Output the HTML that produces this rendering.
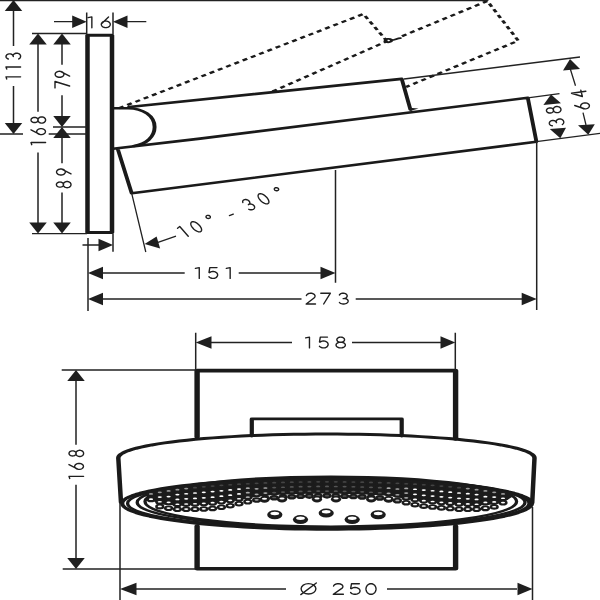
<!DOCTYPE html>
<html><head><meta charset="utf-8"><style>
html,body{margin:0;padding:0;background:#fff;width:600px;height:600px;overflow:hidden}
svg{display:block}
</style></head><body>
<svg width="600" height="600" viewBox="0 0 600 600">
<rect width="600" height="600" fill="#fff"/>
<g transform="scale(1.5 1)">
<g stroke="#1a1a1a" fill="none" stroke-linejoin="round" stroke-linecap="round">
<path d="M58.33 35.3H74.67V232.5H58.33Z" stroke-width="3"/>
<path d="M75.33 108.2H85.33C95.33 108.2 103.07 116 103.07 127C103.07 137 97.33 144.3 89.33 145.9" stroke-width="2.6"/>
<path d="M86 107L267.8 78.85L273.6 109.5" stroke-width="2.6"/>
<path d="M75.33 148.8L133.33 138.6L351.87 97.8L357.6 141.7L87.8 193.3L78.67 149.8" stroke-width="2.6"/>
<path d="M131.4 437V370.6H303.73V439" stroke-width="3.6"/>
<path d="M131.4 526V568.7H303.73V526" stroke-width="3.6"/>
<path d="M167.87 436V418.9H267.8V436" stroke-width="2.8"/>
<path d="M80.67 502.5L78.87 458L79.06 456.74L79.63 455.49L80.57 454.25L81.9 453.01L83.59 451.79L85.66 450.58L88.08 449.4L90.86 448.24L93.99 447.1L97.45 446L101.25 444.93L105.36 443.89L109.79 442.9L114.5 441.94L119.5 441.03L124.77 440.16L130.29 439.35L136.05 438.58L142.04 437.87L148.23 437.22L154.61 436.62L161.17 436.07L167.88 435.59L174.73 435.17L181.69 434.82L188.75 434.52L195.9 434.3L203.1 434.13L210.34 434.03L217.6 434L224.86 434.03L232.1 434.13L239.3 434.3L246.45 434.52L253.51 434.82L260.47 435.17L267.32 435.59L274.03 436.07L280.59 436.62L286.97 437.22L293.16 437.87L299.15 438.58L304.91 439.35L310.43 440.16L315.7 441.03L320.7 441.94L325.41 442.9L329.84 443.89L333.95 444.93L337.75 446L341.21 447.1L344.34 448.24L347.12 449.4L349.54 450.58L351.61 451.79L353.3 453.01L354.63 454.25L355.57 455.49L356.14 456.74L356.33 458L354.8 503" stroke-width="3"/>
<path d="M354.67 503.3L354.48 504.66L353.92 506.02L352.99 507.37L351.68 508.71L350.01 510.03L347.98 511.33L345.59 512.62L342.86 513.88L339.78 515.1L336.37 516.3L332.63 517.46L328.58 518.58L324.23 519.66L319.58 520.7L314.66 521.68L309.47 522.62L304.03 523.51L298.36 524.33L292.47 525.11L286.37 525.82L280.08 526.47L273.63 527.05L267.02 527.57L260.28 528.03L253.42 528.41L246.47 528.73L239.43 528.98L232.35 529.16L225.21 529.26L218.07 529.3L210.92 529.26L203.79 529.16L196.7 528.98L189.67 528.73L182.71 528.41L175.85 528.03L169.11 527.57L162.51 527.05L156.05 526.47L149.77 525.82L143.67 525.11L137.77 524.33L132.1 523.51L126.67 522.62L121.47 521.68L116.55 520.7L111.91 519.66L107.55 518.58L103.51 517.46L99.77 516.3L96.35 515.1L93.27 513.88L90.54 512.62L88.15 511.33L86.12 510.03L84.45 508.71L83.15 507.37L82.21 506.02L81.65 504.66L81.47 503.3L81.65 502L82.21 500.7L83.15 499.4L84.45 498.12L86.12 496.86L88.15 495.61L90.54 494.38L93.27 493.17L96.35 492L99.77 490.85L103.51 489.74L107.55 488.66L111.91 487.63L116.55 486.64L121.47 485.69L126.67 484.8L132.1 483.95L137.77 483.16L143.67 482.42L149.77 481.74L156.05 481.11L162.51 480.55L169.11 480.05L175.85 479.62L182.71 479.25L189.67 478.94L196.7 478.71L203.79 478.54L210.92 478.43L218.07 478.4L225.21 478.43L232.35 478.54L239.43 478.71L246.47 478.94L253.42 479.25L260.28 479.62L267.02 480.05L273.63 480.55L280.08 481.11L286.37 481.74L292.47 482.42L298.36 483.16L304.03 483.95L309.47 484.8L314.66 485.69L319.58 486.64L324.23 487.63L328.58 488.66L332.63 489.74L336.37 490.85L339.78 492L342.86 493.17L345.59 494.38L347.98 495.61L350.01 496.86L351.68 498.12L352.99 499.4L353.92 500.7L354.48 502L354.67 503.3Z" stroke-width="2.8"/>
</g>
<path d="M256.67 40.5C256.67 38.5 260 38.3 261 39.8C261.67 41.2 259.33 42.8 257.67 42C257 41.6 256.67 41 256.67 40.5ZM260.67 40.3C262.67 40.6 264.67 38.4 267 38.2" fill="none" stroke="#1a1a1a" stroke-width="1.8" stroke-linecap="round"/>
<g stroke="#1a1a1a" stroke-width="2.2" fill="none" stroke-dasharray="3.45 2.9">
<path d="M79.33 108.2L242.27 14L257.8 40.7"/>
<path d="M268 36.2L324.87 1L345.53 40.7L270.67 87"/>
<path d="M181.67 91.5L258.33 41"/>
</g>
</g>
<g transform="scale(1.5 1)">
<g fill="none" stroke="#1a1a1a" stroke-width="2.2">
<ellipse cx="218.87" cy="503.5" rx="133.8" ry="24.5"/>
<ellipse cx="220.73" cy="502.5" rx="129.27" ry="24.5"/>
<ellipse cx="220.53" cy="501.5" rx="123.87" ry="25"/>
</g>
<path d="M98 491.43L101.04 490.46L104.08 489.58L107.13 488.77L110.17 488.03L113.21 487.34L116.25 486.7L119.29 486.1L122.33 485.54L125.37 485.01L128.41 484.51L131.46 484.04L134.5 483.6L137.54 483.19L140.59 482.79L143.63 482.42L146.67 482.07L149.71 481.74L152.75 481.43L155.79 481.14L158.83 480.86L161.87 480.6L164.92 480.36L167.96 480.14L171 479.92L174.04 479.73L177.08 479.55L180.13 479.38L183.17 479.23L186.21 479.09L189.25 478.96L192.29 478.85L195.33 478.75L198.37 478.66L201.41 478.59L204.46 478.52L207.5 478.47L210.54 478.44L213.59 478.41L216.63 478.4L219.67 478.4L222.71 478.41L225.75 478.44L228.79 478.48L231.83 478.53L234.87 478.59L237.92 478.66L240.96 478.75L244 478.85L247.04 478.97L250.08 479.09L253.13 479.23L256.17 479.39L259.21 479.56L262.25 479.74L265.29 479.94L268.33 480.15L271.37 480.37L274.41 480.62L277.46 480.88L280.5 481.15L283.54 481.45L286.59 481.76L289.63 482.09L292.67 482.44L295.71 482.81L298.75 483.21L301.79 483.63L304.83 484.07L307.87 484.54L310.92 485.04L313.96 485.57L317 486.13L320.04 486.73L323.08 487.38L326.13 488.07L329.17 488.81L332.21 489.62L335.25 490.5L338.29 491.48L341.33 492.57L341.33 497.07L338.29 499.94L335.25 502.1L332.21 503.43L329.17 504.49L326.13 504.8L323.08 505.12L320.04 505.46L317 505.29L313.96 505.12L310.92 504.96L307.87 504.81L304.83 504.53L301.79 504.15L298.75 503.79L295.71 503.43L292.67 503.06L289.63 502.64L286.59 502.22L283.54 501.81L280.5 501.4L277.46 500.66L274.41 499.87L271.37 499.07L268.33 498.29L265.29 497.47L262.25 496.61L259.21 495.9L256.17 495.61L253.13 495.33L250.08 495.05L247.04 494.77L244 494.57L240.96 494.38L237.92 494.19L234.87 494.01L231.83 493.88L228.79 493.8L225.75 493.72L222.71 493.65L219.67 493.58L216.63 493.52L213.59 493.59L210.54 493.66L207.5 493.73L204.46 493.81L201.41 493.9L198.37 494.03L195.33 494.22L192.29 494.41L189.25 494.6L186.21 494.81L183.17 495.06L180.13 495.32L177.08 495.58L174.04 496.22L171 496.92L167.96 497.62L164.92 498.37L161.87 499.16L158.83 499.96L155.79 500.76L152.75 501.53L149.71 502.16L146.67 502.79L143.63 503.43L140.59 503.78L137.54 504.11L134.5 504.45L131.46 504.66L128.41 504.8L125.37 504.95L122.33 505.11L119.29 505.28L116.25 505.39L113.21 505.05L110.17 504.72L107.13 504.41L104.08 502.54L101.04 500.21L98 496.03Z" fill="#1c1c1c"/>
<g fill="#1c1c1c"><ellipse cx="100.67" cy="494.17" rx="3.07" ry="2.8"/><ellipse cx="106.53" cy="492.52" rx="3.07" ry="2.8"/><ellipse cx="112.4" cy="491.12" rx="3.07" ry="2.8"/><ellipse cx="118.27" cy="489.9" rx="3.07" ry="2.8"/><ellipse cx="124.13" cy="488.82" rx="3.07" ry="2.8"/><ellipse cx="130" cy="487.87" rx="3.07" ry="2.8"/><ellipse cx="135.87" cy="487.01" rx="3.07" ry="2.8"/><ellipse cx="141.73" cy="486.25" rx="3.07" ry="2.8"/><ellipse cx="147.6" cy="485.57" rx="3.07" ry="2.8"/><ellipse cx="153.47" cy="484.96" rx="3.07" ry="2.8"/><ellipse cx="159.33" cy="484.42" rx="3.07" ry="2.8"/><ellipse cx="165.2" cy="483.94" rx="3.07" ry="2.8"/><ellipse cx="171.07" cy="483.52" rx="3.07" ry="2.8"/><ellipse cx="176.93" cy="483.16" rx="3.07" ry="2.8"/><ellipse cx="182.8" cy="482.84" rx="3.07" ry="2.8"/><ellipse cx="188.67" cy="482.58" rx="3.07" ry="2.8"/><ellipse cx="194.53" cy="482.37" rx="3.07" ry="2.8"/><ellipse cx="200.4" cy="482.21" rx="3.07" ry="2.8"/><ellipse cx="206.27" cy="482.09" rx="3.07" ry="2.8"/><ellipse cx="212.13" cy="482.02" rx="3.07" ry="2.8"/><ellipse cx="218" cy="482" rx="3.07" ry="2.8"/><ellipse cx="223.87" cy="482.02" rx="3.07" ry="2.8"/><ellipse cx="229.73" cy="482.09" rx="3.07" ry="2.8"/><ellipse cx="235.6" cy="482.21" rx="3.07" ry="2.8"/><ellipse cx="241.47" cy="482.37" rx="3.07" ry="2.8"/><ellipse cx="247.33" cy="482.58" rx="3.07" ry="2.8"/><ellipse cx="253.2" cy="482.84" rx="3.07" ry="2.8"/><ellipse cx="259.07" cy="483.15" rx="3.07" ry="2.8"/><ellipse cx="264.93" cy="483.51" rx="3.07" ry="2.8"/><ellipse cx="270.8" cy="483.93" rx="3.07" ry="2.8"/><ellipse cx="276.67" cy="484.41" rx="3.07" ry="2.8"/><ellipse cx="282.53" cy="484.95" rx="3.07" ry="2.8"/><ellipse cx="288.4" cy="485.55" rx="3.07" ry="2.8"/><ellipse cx="294.27" cy="486.23" rx="3.07" ry="2.8"/><ellipse cx="300.13" cy="486.99" rx="3.07" ry="2.8"/><ellipse cx="306" cy="487.85" rx="3.07" ry="2.8"/><ellipse cx="311.87" cy="488.8" rx="3.07" ry="2.8"/><ellipse cx="317.73" cy="489.87" rx="3.07" ry="2.8"/><ellipse cx="323.6" cy="491.09" rx="3.07" ry="2.8"/><ellipse cx="329.47" cy="492.49" rx="3.07" ry="2.8"/><ellipse cx="335.33" cy="494.13" rx="3.07" ry="2.8"/><ellipse cx="100.67" cy="499.4" rx="3.07" ry="2.8"/><ellipse cx="106.53" cy="497.23" rx="3.07" ry="2.8"/><ellipse cx="112.4" cy="496.82" rx="3.07" ry="2.8"/><ellipse cx="118.27" cy="494.75" rx="3.07" ry="2.8"/><ellipse cx="124.13" cy="493.94" rx="3.07" ry="2.8"/><ellipse cx="130" cy="493.22" rx="3.07" ry="2.8"/><ellipse cx="135.87" cy="492.52" rx="3.07" ry="2.8"/><ellipse cx="141.73" cy="491.8" rx="3.07" ry="2.8"/><ellipse cx="147.6" cy="490.98" rx="3.07" ry="2.8"/><ellipse cx="153.47" cy="490.16" rx="3.07" ry="2.8"/><ellipse cx="159.33" cy="489.26" rx="3.07" ry="2.8"/><ellipse cx="165.2" cy="488.4" rx="3.07" ry="2.8"/><ellipse cx="171.07" cy="489.01" rx="3.07" ry="2.8"/><ellipse cx="176.93" cy="488.19" rx="3.07" ry="2.8"/><ellipse cx="182.8" cy="487.79" rx="3.07" ry="2.8"/><ellipse cx="188.67" cy="487.44" rx="3.07" ry="2.8"/><ellipse cx="194.53" cy="487.15" rx="3.07" ry="2.8"/><ellipse cx="200.4" cy="486.9" rx="3.07" ry="2.8"/><ellipse cx="206.27" cy="486.77" rx="3.07" ry="2.8"/><ellipse cx="212.13" cy="486.66" rx="3.07" ry="2.8"/><ellipse cx="218" cy="486.61" rx="3.07" ry="2.8"/><ellipse cx="223.87" cy="486.69" rx="3.07" ry="2.8"/><ellipse cx="229.73" cy="486.79" rx="3.07" ry="2.8"/><ellipse cx="235.6" cy="486.96" rx="3.07" ry="2.8"/><ellipse cx="241.47" cy="487.22" rx="3.07" ry="2.8"/><ellipse cx="247.33" cy="487.51" rx="3.07" ry="2.8"/><ellipse cx="253.2" cy="487.9" rx="3.07" ry="2.8"/><ellipse cx="259.07" cy="488.33" rx="3.07" ry="2.8"/><ellipse cx="264.93" cy="489.22" rx="3.07" ry="2.8"/><ellipse cx="270.8" cy="488.62" rx="3.07" ry="2.8"/><ellipse cx="276.67" cy="489.47" rx="3.07" ry="2.8"/><ellipse cx="282.53" cy="490.26" rx="3.07" ry="2.8"/><ellipse cx="288.4" cy="490.93" rx="3.07" ry="2.8"/><ellipse cx="294.27" cy="491.65" rx="3.07" ry="2.8"/><ellipse cx="300.13" cy="492.39" rx="3.07" ry="2.8"/><ellipse cx="306" cy="493.19" rx="3.07" ry="2.8"/><ellipse cx="311.87" cy="493.92" rx="3.07" ry="2.8"/><ellipse cx="317.73" cy="494.73" rx="3.07" ry="2.8"/><ellipse cx="323.6" cy="496.86" rx="3.07" ry="2.8"/><ellipse cx="329.47" cy="497.3" rx="3.07" ry="2.8"/><ellipse cx="335.33" cy="498.46" rx="3.07" ry="2.8"/><ellipse cx="106.53" cy="501.94" rx="3.07" ry="2.8"/><ellipse cx="112.4" cy="502.53" rx="3.07" ry="2.8"/><ellipse cx="118.27" cy="499.6" rx="3.07" ry="2.8"/><ellipse cx="124.13" cy="499.06" rx="3.07" ry="2.8"/><ellipse cx="130" cy="498.58" rx="3.07" ry="2.8"/><ellipse cx="135.87" cy="498.03" rx="3.07" ry="2.8"/><ellipse cx="141.73" cy="497.36" rx="3.07" ry="2.8"/><ellipse cx="147.6" cy="496.4" rx="3.07" ry="2.8"/><ellipse cx="153.47" cy="495.36" rx="3.07" ry="2.8"/><ellipse cx="159.33" cy="494.1" rx="3.07" ry="2.8"/><ellipse cx="165.2" cy="492.87" rx="3.07" ry="2.8"/><ellipse cx="171.07" cy="494.49" rx="3.07" ry="2.8"/><ellipse cx="176.93" cy="493.23" rx="3.07" ry="2.8"/><ellipse cx="182.8" cy="492.74" rx="3.07" ry="2.8"/><ellipse cx="188.67" cy="492.29" rx="3.07" ry="2.8"/><ellipse cx="194.53" cy="491.93" rx="3.07" ry="2.8"/><ellipse cx="200.4" cy="491.6" rx="3.07" ry="2.8"/><ellipse cx="206.27" cy="491.44" rx="3.07" ry="2.8"/><ellipse cx="212.13" cy="491.3" rx="3.07" ry="2.8"/><ellipse cx="218" cy="491.23" rx="3.07" ry="2.8"/><ellipse cx="223.87" cy="491.35" rx="3.07" ry="2.8"/><ellipse cx="229.73" cy="491.49" rx="3.07" ry="2.8"/><ellipse cx="235.6" cy="491.72" rx="3.07" ry="2.8"/><ellipse cx="241.47" cy="492.06" rx="3.07" ry="2.8"/><ellipse cx="247.33" cy="492.44" rx="3.07" ry="2.8"/><ellipse cx="253.2" cy="492.97" rx="3.07" ry="2.8"/><ellipse cx="259.07" cy="493.51" rx="3.07" ry="2.8"/><ellipse cx="264.93" cy="494.94" rx="3.07" ry="2.8"/><ellipse cx="270.8" cy="493.31" rx="3.07" ry="2.8"/><ellipse cx="276.67" cy="494.54" rx="3.07" ry="2.8"/><ellipse cx="282.53" cy="495.56" rx="3.07" ry="2.8"/><ellipse cx="288.4" cy="496.31" rx="3.07" ry="2.8"/><ellipse cx="294.27" cy="497.07" rx="3.07" ry="2.8"/><ellipse cx="300.13" cy="497.78" rx="3.07" ry="2.8"/><ellipse cx="306" cy="498.54" rx="3.07" ry="2.8"/><ellipse cx="311.87" cy="499.05" rx="3.07" ry="2.8"/><ellipse cx="317.73" cy="499.59" rx="3.07" ry="2.8"/><ellipse cx="323.6" cy="502.63" rx="3.07" ry="2.8"/><ellipse cx="329.47" cy="502.12" rx="3.07" ry="2.8"/><ellipse cx="335.33" cy="502.8" rx="3.07" ry="2.8"/><ellipse cx="106.53" cy="506.65" rx="3.07" ry="2.8"/><ellipse cx="112.4" cy="508.23" rx="3.07" ry="2.8"/><ellipse cx="118.27" cy="504.45" rx="3.07" ry="2.8"/><ellipse cx="124.13" cy="504.18" rx="3.07" ry="2.8"/><ellipse cx="130" cy="503.94" rx="3.07" ry="2.8"/><ellipse cx="135.87" cy="503.54" rx="3.07" ry="2.8"/><ellipse cx="141.73" cy="502.91" rx="3.07" ry="2.8"/><ellipse cx="147.6" cy="501.82" rx="3.07" ry="2.8"/><ellipse cx="153.47" cy="500.56" rx="3.07" ry="2.8"/><ellipse cx="159.33" cy="498.94" rx="3.07" ry="2.8"/><ellipse cx="165.2" cy="497.33" rx="3.07" ry="2.8"/><ellipse cx="171.07" cy="499.98" rx="3.07" ry="2.8"/><ellipse cx="176.93" cy="498.27" rx="3.07" ry="2.8"/><ellipse cx="182.8" cy="497.69" rx="3.07" ry="2.8"/><ellipse cx="188.67" cy="497.15" rx="3.07" ry="2.8"/><ellipse cx="194.53" cy="496.71" rx="3.07" ry="2.8"/><ellipse cx="200.4" cy="496.29" rx="3.07" ry="2.8"/><ellipse cx="206.27" cy="496.11" rx="3.07" ry="2.8"/><ellipse cx="212.13" cy="495.94" rx="3.07" ry="2.8"/><ellipse cx="218" cy="495.84" rx="3.07" ry="2.8"/><ellipse cx="223.87" cy="496.02" rx="3.07" ry="2.8"/><ellipse cx="229.73" cy="496.19" rx="3.07" ry="2.8"/><ellipse cx="235.6" cy="496.47" rx="3.07" ry="2.8"/><ellipse cx="241.47" cy="496.91" rx="3.07" ry="2.8"/><ellipse cx="247.33" cy="497.38" rx="3.07" ry="2.8"/><ellipse cx="253.2" cy="498.04" rx="3.07" ry="2.8"/><ellipse cx="259.07" cy="498.7" rx="3.07" ry="2.8"/><ellipse cx="264.93" cy="500.65" rx="3.07" ry="2.8"/><ellipse cx="270.8" cy="498" rx="3.07" ry="2.8"/><ellipse cx="276.67" cy="499.61" rx="3.07" ry="2.8"/><ellipse cx="282.53" cy="500.87" rx="3.07" ry="2.8"/><ellipse cx="288.4" cy="501.68" rx="3.07" ry="2.8"/><ellipse cx="294.27" cy="502.49" rx="3.07" ry="2.8"/><ellipse cx="300.13" cy="503.17" rx="3.07" ry="2.8"/><ellipse cx="306" cy="503.88" rx="3.07" ry="2.8"/><ellipse cx="311.87" cy="504.17" rx="3.07" ry="2.8"/><ellipse cx="317.73" cy="504.44" rx="3.07" ry="2.8"/><ellipse cx="323.6" cy="508.4" rx="3.07" ry="2.8"/><ellipse cx="329.47" cy="506.93" rx="3.07" ry="2.8"/><ellipse cx="118.27" cy="509.3" rx="3.07" ry="2.8"/><ellipse cx="124.13" cy="509.3" rx="3.07" ry="2.8"/><ellipse cx="130" cy="509.3" rx="3.07" ry="2.8"/><ellipse cx="135.87" cy="509.05" rx="3.07" ry="2.8"/><ellipse cx="141.73" cy="508.46" rx="3.07" ry="2.8"/><ellipse cx="147.6" cy="507.23" rx="3.07" ry="2.8"/><ellipse cx="153.47" cy="505.75" rx="3.07" ry="2.8"/><ellipse cx="159.33" cy="503.77" rx="3.07" ry="2.8"/><ellipse cx="165.2" cy="501.79" rx="3.07" ry="2.8"/><ellipse cx="270.8" cy="502.7" rx="3.07" ry="2.8"/><ellipse cx="276.67" cy="504.68" rx="3.07" ry="2.8"/><ellipse cx="282.53" cy="506.18" rx="3.07" ry="2.8"/><ellipse cx="288.4" cy="507.06" rx="3.07" ry="2.8"/><ellipse cx="294.27" cy="507.91" rx="3.07" ry="2.8"/><ellipse cx="300.13" cy="508.56" rx="3.07" ry="2.8"/><ellipse cx="306" cy="509.23" rx="3.07" ry="2.8"/><ellipse cx="311.87" cy="509.3" rx="3.07" ry="2.8"/><ellipse cx="317.73" cy="509.3" rx="3.07" ry="2.8"/></g><ellipse cx="100.67" cy="493.97" rx="1.4" ry="0.85" fill="#999"/><ellipse cx="106.53" cy="492.32" rx="1.4" ry="0.85" fill="#999"/><ellipse cx="112.4" cy="490.92" rx="1.4" ry="0.85" fill="#999"/><ellipse cx="118.27" cy="489.7" rx="1.4" ry="0.85" fill="#999"/><ellipse cx="124.13" cy="488.62" rx="1.4" ry="0.85" fill="#999"/><ellipse cx="130" cy="487.67" rx="1.4" ry="0.85" fill="#444"/><ellipse cx="135.87" cy="486.81" rx="1.4" ry="0.85" fill="#444"/><ellipse cx="141.73" cy="486.05" rx="1.4" ry="0.85" fill="#444"/><ellipse cx="147.6" cy="485.37" rx="1.4" ry="0.85" fill="#444"/><ellipse cx="153.47" cy="484.76" rx="1.4" ry="0.85" fill="#444"/><ellipse cx="159.33" cy="484.22" rx="1.4" ry="0.85" fill="#444"/><ellipse cx="165.2" cy="483.74" rx="1.4" ry="0.85" fill="#444"/><ellipse cx="171.07" cy="483.32" rx="1.4" ry="0.85" fill="#444"/><ellipse cx="176.93" cy="482.96" rx="1.4" ry="0.85" fill="#444"/><ellipse cx="182.8" cy="482.64" rx="1.4" ry="0.85" fill="#444"/><ellipse cx="188.67" cy="482.38" rx="1.4" ry="0.85" fill="#444"/><ellipse cx="194.53" cy="482.17" rx="1.4" ry="0.85" fill="#444"/><ellipse cx="200.4" cy="482.01" rx="1.4" ry="0.85" fill="#444"/><ellipse cx="206.27" cy="481.89" rx="1.4" ry="0.85" fill="#444"/><ellipse cx="212.13" cy="481.82" rx="1.4" ry="0.85" fill="#444"/><ellipse cx="218" cy="481.8" rx="1.4" ry="0.85" fill="#444"/><ellipse cx="223.87" cy="481.82" rx="1.4" ry="0.85" fill="#444"/><ellipse cx="229.73" cy="481.89" rx="1.4" ry="0.85" fill="#444"/><ellipse cx="235.6" cy="482.01" rx="1.4" ry="0.85" fill="#444"/><ellipse cx="241.47" cy="482.17" rx="1.4" ry="0.85" fill="#444"/><ellipse cx="247.33" cy="482.38" rx="1.4" ry="0.85" fill="#444"/><ellipse cx="253.2" cy="482.64" rx="1.4" ry="0.85" fill="#444"/><ellipse cx="259.07" cy="482.95" rx="1.4" ry="0.85" fill="#444"/><ellipse cx="264.93" cy="483.31" rx="1.4" ry="0.85" fill="#444"/><ellipse cx="270.8" cy="483.73" rx="1.4" ry="0.85" fill="#444"/><ellipse cx="276.67" cy="484.21" rx="1.4" ry="0.85" fill="#444"/><ellipse cx="282.53" cy="484.75" rx="1.4" ry="0.85" fill="#444"/><ellipse cx="288.4" cy="485.35" rx="1.4" ry="0.85" fill="#444"/><ellipse cx="294.27" cy="486.03" rx="1.4" ry="0.85" fill="#444"/><ellipse cx="300.13" cy="486.79" rx="1.4" ry="0.85" fill="#444"/><ellipse cx="306" cy="487.65" rx="1.4" ry="0.85" fill="#444"/><ellipse cx="311.87" cy="488.6" rx="1.4" ry="0.85" fill="#999"/><ellipse cx="317.73" cy="489.67" rx="1.4" ry="0.85" fill="#999"/><ellipse cx="323.6" cy="490.89" rx="1.4" ry="0.85" fill="#999"/><ellipse cx="329.47" cy="492.29" rx="1.4" ry="0.85" fill="#999"/><ellipse cx="335.33" cy="493.93" rx="1.4" ry="0.85" fill="#999"/><ellipse cx="100.67" cy="499.2" rx="1.4" ry="0.85" fill="#fff"/><ellipse cx="106.53" cy="497.03" rx="1.4" ry="0.85" fill="#fff"/><ellipse cx="112.4" cy="496.62" rx="1.4" ry="0.85" fill="#fff"/><ellipse cx="118.27" cy="494.55" rx="1.4" ry="0.85" fill="#fff"/><ellipse cx="124.13" cy="493.74" rx="1.4" ry="0.85" fill="#fff"/><ellipse cx="130" cy="493.02" rx="1.4" ry="0.85" fill="#fff"/><ellipse cx="135.87" cy="492.32" rx="1.4" ry="0.85" fill="#fff"/><ellipse cx="141.73" cy="491.6" rx="1.4" ry="0.85" fill="#fff"/><ellipse cx="147.6" cy="490.78" rx="1.4" ry="0.85" fill="#fff"/><ellipse cx="153.47" cy="489.96" rx="1.4" ry="0.85" fill="#fff"/><ellipse cx="159.33" cy="489.06" rx="1.4" ry="0.85" fill="#fff"/><ellipse cx="165.2" cy="488.2" rx="1.4" ry="0.85" fill="#aaa"/><ellipse cx="171.07" cy="488.81" rx="1.4" ry="0.85" fill="#aaa"/><ellipse cx="176.93" cy="487.99" rx="1.4" ry="0.85" fill="#aaa"/><ellipse cx="182.8" cy="487.59" rx="1.4" ry="0.85" fill="#555"/><ellipse cx="188.67" cy="487.24" rx="1.4" ry="0.85" fill="#555"/><ellipse cx="194.53" cy="486.95" rx="1.4" ry="0.85" fill="#555"/><ellipse cx="200.4" cy="486.7" rx="1.4" ry="0.85" fill="#555"/><ellipse cx="206.27" cy="486.57" rx="1.4" ry="0.85" fill="#555"/><ellipse cx="212.13" cy="486.46" rx="1.4" ry="0.85" fill="#555"/><ellipse cx="218" cy="486.41" rx="1.4" ry="0.85" fill="#555"/><ellipse cx="223.87" cy="486.49" rx="1.4" ry="0.85" fill="#555"/><ellipse cx="229.73" cy="486.59" rx="1.4" ry="0.85" fill="#555"/><ellipse cx="235.6" cy="486.76" rx="1.4" ry="0.85" fill="#555"/><ellipse cx="241.47" cy="487.02" rx="1.4" ry="0.85" fill="#555"/><ellipse cx="247.33" cy="487.31" rx="1.4" ry="0.85" fill="#555"/><ellipse cx="253.2" cy="487.7" rx="1.4" ry="0.85" fill="#555"/><ellipse cx="259.07" cy="488.13" rx="1.4" ry="0.85" fill="#aaa"/><ellipse cx="264.93" cy="489.02" rx="1.4" ry="0.85" fill="#aaa"/><ellipse cx="270.8" cy="488.42" rx="1.4" ry="0.85" fill="#aaa"/><ellipse cx="276.67" cy="489.27" rx="1.4" ry="0.85" fill="#fff"/><ellipse cx="282.53" cy="490.06" rx="1.4" ry="0.85" fill="#fff"/><ellipse cx="288.4" cy="490.73" rx="1.4" ry="0.85" fill="#fff"/><ellipse cx="294.27" cy="491.45" rx="1.4" ry="0.85" fill="#fff"/><ellipse cx="300.13" cy="492.19" rx="1.4" ry="0.85" fill="#fff"/><ellipse cx="306" cy="492.99" rx="1.4" ry="0.85" fill="#fff"/><ellipse cx="311.87" cy="493.72" rx="1.4" ry="0.85" fill="#fff"/><ellipse cx="317.73" cy="494.53" rx="1.4" ry="0.85" fill="#fff"/><ellipse cx="323.6" cy="496.66" rx="1.4" ry="0.85" fill="#fff"/><ellipse cx="329.47" cy="497.1" rx="1.4" ry="0.85" fill="#fff"/><ellipse cx="335.33" cy="498.26" rx="1.4" ry="0.85" fill="#fff"/><ellipse cx="106.53" cy="501.74" rx="1.4" ry="0.85" fill="#fff"/><ellipse cx="112.4" cy="502.33" rx="1.4" ry="0.85" fill="#fff"/><ellipse cx="118.27" cy="499.4" rx="1.4" ry="0.85" fill="#fff"/><ellipse cx="124.13" cy="498.86" rx="1.4" ry="0.85" fill="#fff"/><ellipse cx="130" cy="498.38" rx="1.4" ry="0.85" fill="#fff"/><ellipse cx="135.87" cy="497.83" rx="1.4" ry="0.85" fill="#fff"/><ellipse cx="141.73" cy="497.16" rx="1.4" ry="0.85" fill="#fff"/><ellipse cx="147.6" cy="496.2" rx="1.4" ry="0.85" fill="#fff"/><ellipse cx="153.47" cy="495.16" rx="1.4" ry="0.85" fill="#fff"/><ellipse cx="159.33" cy="493.9" rx="1.4" ry="0.85" fill="#fff"/><ellipse cx="165.2" cy="492.67" rx="1.4" ry="0.85" fill="#aaa"/><ellipse cx="171.07" cy="494.29" rx="1.4" ry="0.85" fill="#aaa"/><ellipse cx="176.93" cy="493.03" rx="1.4" ry="0.85" fill="#aaa"/><ellipse cx="182.8" cy="492.54" rx="1.4" ry="0.85" fill="#555"/><ellipse cx="188.67" cy="492.09" rx="1.4" ry="0.85" fill="#555"/><ellipse cx="194.53" cy="491.73" rx="1.4" ry="0.85" fill="#555"/><ellipse cx="200.4" cy="491.4" rx="1.4" ry="0.85" fill="#555"/><ellipse cx="206.27" cy="491.24" rx="1.4" ry="0.85" fill="#555"/><ellipse cx="212.13" cy="491.1" rx="1.4" ry="0.85" fill="#555"/><ellipse cx="218" cy="491.03" rx="1.4" ry="0.85" fill="#555"/><ellipse cx="223.87" cy="491.15" rx="1.4" ry="0.85" fill="#555"/><ellipse cx="229.73" cy="491.29" rx="1.4" ry="0.85" fill="#555"/><ellipse cx="235.6" cy="491.52" rx="1.4" ry="0.85" fill="#555"/><ellipse cx="241.47" cy="491.86" rx="1.4" ry="0.85" fill="#555"/><ellipse cx="247.33" cy="492.24" rx="1.4" ry="0.85" fill="#555"/><ellipse cx="253.2" cy="492.77" rx="1.4" ry="0.85" fill="#555"/><ellipse cx="259.07" cy="493.31" rx="1.4" ry="0.85" fill="#aaa"/><ellipse cx="264.93" cy="494.74" rx="1.4" ry="0.85" fill="#aaa"/><ellipse cx="270.8" cy="493.11" rx="1.4" ry="0.85" fill="#aaa"/><ellipse cx="276.67" cy="494.34" rx="1.4" ry="0.85" fill="#fff"/><ellipse cx="282.53" cy="495.36" rx="1.4" ry="0.85" fill="#fff"/><ellipse cx="288.4" cy="496.11" rx="1.4" ry="0.85" fill="#fff"/><ellipse cx="294.27" cy="496.87" rx="1.4" ry="0.85" fill="#fff"/><ellipse cx="300.13" cy="497.58" rx="1.4" ry="0.85" fill="#fff"/><ellipse cx="306" cy="498.34" rx="1.4" ry="0.85" fill="#fff"/><ellipse cx="311.87" cy="498.85" rx="1.4" ry="0.85" fill="#fff"/><ellipse cx="317.73" cy="499.39" rx="1.4" ry="0.85" fill="#fff"/><ellipse cx="323.6" cy="502.43" rx="1.4" ry="0.85" fill="#fff"/><ellipse cx="329.47" cy="501.92" rx="1.4" ry="0.85" fill="#fff"/><ellipse cx="335.33" cy="502.6" rx="1.4" ry="0.85" fill="#fff"/><ellipse cx="106.53" cy="506.45" rx="1.4" ry="0.85" fill="#fff"/><ellipse cx="112.4" cy="508.03" rx="1.4" ry="0.85" fill="#fff"/><ellipse cx="118.27" cy="504.25" rx="1.4" ry="0.85" fill="#fff"/><ellipse cx="124.13" cy="503.98" rx="1.4" ry="0.85" fill="#fff"/><ellipse cx="130" cy="503.74" rx="1.4" ry="0.85" fill="#fff"/><ellipse cx="135.87" cy="503.34" rx="1.4" ry="0.85" fill="#fff"/><ellipse cx="141.73" cy="502.71" rx="1.4" ry="0.85" fill="#fff"/><ellipse cx="147.6" cy="501.62" rx="1.4" ry="0.85" fill="#fff"/><ellipse cx="153.47" cy="500.36" rx="1.4" ry="0.85" fill="#fff"/><ellipse cx="159.33" cy="498.74" rx="1.4" ry="0.85" fill="#fff"/><ellipse cx="165.2" cy="497.13" rx="1.4" ry="0.85" fill="#aaa"/><ellipse cx="171.07" cy="499.78" rx="1.4" ry="0.85" fill="#aaa"/><ellipse cx="176.93" cy="498.07" rx="1.4" ry="0.85" fill="#aaa"/><ellipse cx="182.8" cy="497.49" rx="1.4" ry="0.85" fill="#555"/><ellipse cx="188.67" cy="496.95" rx="1.4" ry="0.85" fill="#555"/><ellipse cx="194.53" cy="496.51" rx="1.4" ry="0.85" fill="#555"/><ellipse cx="200.4" cy="496.09" rx="1.4" ry="0.85" fill="#555"/><ellipse cx="206.27" cy="495.91" rx="1.4" ry="0.85" fill="#555"/><ellipse cx="212.13" cy="495.74" rx="1.4" ry="0.85" fill="#555"/><ellipse cx="218" cy="495.64" rx="1.4" ry="0.85" fill="#555"/><ellipse cx="223.87" cy="495.82" rx="1.4" ry="0.85" fill="#555"/><ellipse cx="229.73" cy="495.99" rx="1.4" ry="0.85" fill="#555"/><ellipse cx="235.6" cy="496.27" rx="1.4" ry="0.85" fill="#555"/><ellipse cx="241.47" cy="496.71" rx="1.4" ry="0.85" fill="#555"/><ellipse cx="247.33" cy="497.18" rx="1.4" ry="0.85" fill="#555"/><ellipse cx="253.2" cy="497.84" rx="1.4" ry="0.85" fill="#555"/><ellipse cx="259.07" cy="498.5" rx="1.4" ry="0.85" fill="#aaa"/><ellipse cx="264.93" cy="500.45" rx="1.4" ry="0.85" fill="#aaa"/><ellipse cx="270.8" cy="497.8" rx="1.4" ry="0.85" fill="#aaa"/><ellipse cx="276.67" cy="499.41" rx="1.4" ry="0.85" fill="#fff"/><ellipse cx="282.53" cy="500.67" rx="1.4" ry="0.85" fill="#fff"/><ellipse cx="288.4" cy="501.48" rx="1.4" ry="0.85" fill="#fff"/><ellipse cx="294.27" cy="502.29" rx="1.4" ry="0.85" fill="#fff"/><ellipse cx="300.13" cy="502.97" rx="1.4" ry="0.85" fill="#fff"/><ellipse cx="306" cy="503.68" rx="1.4" ry="0.85" fill="#fff"/><ellipse cx="311.87" cy="503.97" rx="1.4" ry="0.85" fill="#fff"/><ellipse cx="317.73" cy="504.24" rx="1.4" ry="0.85" fill="#fff"/><ellipse cx="323.6" cy="508.2" rx="1.4" ry="0.85" fill="#fff"/><ellipse cx="329.47" cy="506.73" rx="1.4" ry="0.85" fill="#fff"/><ellipse cx="118.27" cy="509.1" rx="1.4" ry="0.85" fill="#fff"/><ellipse cx="124.13" cy="509.1" rx="1.4" ry="0.85" fill="#fff"/><ellipse cx="130" cy="509.1" rx="1.4" ry="0.85" fill="#fff"/><ellipse cx="135.87" cy="508.85" rx="1.4" ry="0.85" fill="#fff"/><ellipse cx="141.73" cy="508.26" rx="1.4" ry="0.85" fill="#fff"/><ellipse cx="147.6" cy="507.03" rx="1.4" ry="0.85" fill="#fff"/><ellipse cx="153.47" cy="505.56" rx="1.4" ry="0.85" fill="#fff"/><ellipse cx="159.33" cy="503.57" rx="1.4" ry="0.85" fill="#fff"/><ellipse cx="165.2" cy="501.59" rx="1.4" ry="0.85" fill="#fff"/><ellipse cx="270.8" cy="502.5" rx="1.4" ry="0.85" fill="#fff"/><ellipse cx="276.67" cy="504.48" rx="1.4" ry="0.85" fill="#fff"/><ellipse cx="282.53" cy="505.98" rx="1.4" ry="0.85" fill="#fff"/><ellipse cx="288.4" cy="506.86" rx="1.4" ry="0.85" fill="#fff"/><ellipse cx="294.27" cy="507.71" rx="1.4" ry="0.85" fill="#fff"/><ellipse cx="300.13" cy="508.37" rx="1.4" ry="0.85" fill="#fff"/><ellipse cx="306" cy="509.03" rx="1.4" ry="0.85" fill="#fff"/><ellipse cx="311.87" cy="509.1" rx="1.4" ry="0.85" fill="#fff"/><ellipse cx="317.73" cy="509.1" rx="1.4" ry="0.85" fill="#fff"/>
<ellipse cx="176.33" cy="499.5" rx="3.4" ry="3.2" fill="#1c1c1c"/>
<ellipse cx="176.33" cy="498.7" rx="1.73" ry="1" fill="#fff"/>
<ellipse cx="188" cy="499.3" rx="3.4" ry="3.2" fill="#1c1c1c"/>
<ellipse cx="188" cy="498.5" rx="1.73" ry="1" fill="#fff"/>
<ellipse cx="211.33" cy="499.3" rx="3.4" ry="3.2" fill="#1c1c1c"/>
<ellipse cx="211.33" cy="498.5" rx="1.73" ry="1" fill="#fff"/>
<ellipse cx="224" cy="499.3" rx="3.4" ry="3.2" fill="#1c1c1c"/>
<ellipse cx="224" cy="498.5" rx="1.73" ry="1" fill="#fff"/>
<ellipse cx="247.47" cy="499.3" rx="3.4" ry="3.2" fill="#1c1c1c"/>
<ellipse cx="247.47" cy="498.5" rx="1.73" ry="1" fill="#fff"/>
<ellipse cx="259.07" cy="499.5" rx="3.4" ry="3.2" fill="#1c1c1c"/>
<ellipse cx="259.07" cy="498.7" rx="1.73" ry="1" fill="#fff"/>
<ellipse cx="183.2" cy="514.8" rx="5.07" ry="4.5" fill="#1c1c1c"/>
<ellipse cx="183.2" cy="513.5" rx="2.93" ry="1.7" fill="#fff"/>
<ellipse cx="200.33" cy="519.6" rx="5.07" ry="4.5" fill="#1c1c1c"/>
<ellipse cx="200.33" cy="518.3" rx="2.93" ry="1.7" fill="#fff"/>
<ellipse cx="217.47" cy="513.1" rx="5.07" ry="4.5" fill="#1c1c1c"/>
<ellipse cx="217.47" cy="511.8" rx="2.93" ry="1.7" fill="#fff"/>
<ellipse cx="234.8" cy="519.6" rx="5.07" ry="4.5" fill="#1c1c1c"/>
<ellipse cx="234.8" cy="518.3" rx="2.93" ry="1.7" fill="#fff"/>
<ellipse cx="252.13" cy="514.8" rx="5.07" ry="4.5" fill="#1c1c1c"/>
<ellipse cx="252.13" cy="513.5" rx="2.93" ry="1.7" fill="#fff"/>
</g>
<g stroke="#222" stroke-width="1.3" fill="none"><path d="M0 0.7H487M0 134H23M48.7 134H87M32 33.5H87M53 127H87M32 233.6H87M54 21.7H73M127 21.7H146.3M82.5 245H99M103 273H184.7M238.7 273H321M103 299H301.5M355.7 299H522M131.7 193.3L145.8 252M158 242.4L176 236.2M404 79L580 57M527.8 97.8L559.5 93.6M536.4 141.7L600 133.3M570 68L575.5 85.8M583 112.7L586 125M211 342.5H292M352 342.5H441M61.7 370H196M62.7 569H196M136 589H286M387 589H517"/></g>
<g stroke="#222" stroke-width="1.5" fill="none"><path d="M13.5 10V46M13.5 86V124M38 44V111.7M38 152.5V223M62 44V64.7M62 95.3V117M62 137V163.3M62 192.5V223M86.7 12.5V34M113 12.5V34M113 234V251.7M88 238V311M335.5 170V282.7M536.7 141V310M195.7 332.7V370M455.3 332.7V370M76 380V444.7M76 484.7V558.5M120 503V600M532.5 507V600"/></g>
<path d="M88.02 17.66L91.86 16.9L91.86 27.7M110.28 24.35L110.19 24.98L109.94 25.59L109.52 26.15L108.97 26.64L108.29 27.05L107.51 27.35L106.67 27.53L105.8 27.59L104.93 27.53L104.09 27.35L103.31 27.05L102.63 26.64L102.08 26.15L101.66 25.59L101.41 24.98L101.32 24.35L101.41 23.72L101.66 23.11L102.08 22.55L102.63 22.06L103.31 21.66L104.09 21.36L104.93 21.17L105.8 21.11L106.67 21.17L107.51 21.36L108.29 21.66L108.97 22.06L109.52 22.55L109.94 23.11L110.19 23.72L110.28 24.35M108.52 16.9L101.8 23.38M8.4 59.02L7.75 58.79L7.17 58.47L6.69 58.08L6.33 57.62L6.1 57.12L6 56.6L6.05 56.07L6.24 55.56L6.56 55.09L7.01 54.67L7.56 54.33L8.19 54.07L8.87 53.91L9.59 53.85L10.31 53.89L11.01 54.04L11.65 54.28L12.21 54.61L12.67 55.02L13.02 55.48L13.23 55.99L13.3 56.51L12.93 55.71L13.14 55.15L13.48 54.63L13.93 54.17L14.49 53.78L15.12 53.49L15.82 53.29L16.55 53.21L17.28 53.24L18 53.38L18.67 53.62L19.26 53.96L19.77 54.39L20.17 54.88L20.44 55.43L20.58 56.01L20.58 56.59L20.44 57.17L20.17 57.72L19.77 58.21L19.26 58.64L18.67 58.98M6.73 69.09L6 66.96L20.6 66.96M6.73 78.99L6 76.86L20.6 76.86M59.53 71.31L60.38 71.37L61.2 71.54L61.96 71.82L62.62 72.19L63.17 72.64L63.57 73.16L63.82 73.72L63.91 74.3L63.82 74.88L63.57 75.44L63.17 75.96L62.62 76.41L61.96 76.78L61.2 77.06L60.38 77.23L59.53 77.29L58.67 77.23L57.85 77.06L57.09 76.78L56.43 76.41L55.88 75.96L55.48 75.44L55.23 74.88L55.15 74.3L55.23 73.72L55.48 73.16L55.88 72.64L56.43 72.19L57.09 71.82L57.85 71.54L58.67 71.37L59.53 71.31M69.6 76.11L60.84 71.63M55 87.9L55 81.5L69.6 85.98M34.58 117.44L35.32 117.5L36.03 117.66L36.68 117.93L37.24 118.29L37.67 118.72L37.98 119.21L38.13 119.73L38.13 120.27L37.98 120.79L37.67 121.28L37.24 121.71L36.68 122.07L36.03 122.34L35.32 122.5L34.58 122.56L33.83 122.5L33.12 122.34L32.47 122.07L31.92 121.71L31.48 121.28L31.18 120.79L31.02 120.27L31.02 119.73L31.18 119.21L31.48 118.72L31.92 118.29L32.47 117.93L33.12 117.66L33.83 117.5L34.58 117.44M41.73 116.91L42.54 116.97L43.3 117.17L44.01 117.5L44.61 117.93L45.08 118.45L45.41 119.04L45.58 119.68L45.58 120.32L45.41 120.96L45.08 121.55L44.61 122.07L44.01 122.5L43.3 122.83L42.54 123.03L41.73 123.09L40.93 123.03L40.16 122.83L39.46 122.5L38.86 122.07L38.38 121.55L38.05 120.96L37.88 120.32L37.88 119.68L38.05 119.04L38.38 118.45L38.86 117.93L39.46 117.5L40.16 117.17L40.93 116.97L41.73 116.91M41.07 128.61L41.93 128.67L42.75 128.84L43.51 129.12L44.17 129.49L44.72 129.94L45.12 130.46L45.37 131.02L45.45 131.6L45.37 132.18L45.12 132.74L44.72 133.26L44.17 133.71L43.51 134.08L42.75 134.36L41.93 134.53L41.07 134.59L40.22 134.53L39.4 134.36L38.64 134.08L37.98 133.71L37.43 133.26L37.03 132.74L36.78 132.18L36.69 131.6L36.78 131.02L37.03 130.46L37.43 129.94L37.98 129.49L38.64 129.12L39.4 128.84L40.22 128.67L41.07 128.61M31 129.79L39.76 134.27M31.73 144.69L31 142.56L45.6 142.56M60.93 169.01L61.78 169.07L62.6 169.24L63.36 169.52L64.02 169.89L64.57 170.34L64.97 170.86L65.22 171.42L65.31 172L65.22 172.58L64.97 173.14L64.57 173.66L64.02 174.11L63.36 174.48L62.6 174.76L61.78 174.93L60.93 174.99L60.07 174.93L59.25 174.76L58.49 174.48L57.83 174.11L57.28 173.66L56.88 173.14L56.63 172.58L56.55 172L56.63 171.42L56.88 170.86L57.28 170.34L57.83 169.89L58.49 169.52L59.25 169.24L60.07 169.07L60.93 169.01M71 173.81L62.24 169.33M59.98 182.04L60.72 182.1L61.43 182.26L62.08 182.53L62.64 182.89L63.07 183.32L63.38 183.81L63.53 184.33L63.53 184.87L63.38 185.39L63.07 185.88L62.64 186.31L62.08 186.67L61.43 186.94L60.72 187.1L59.98 187.16L59.23 187.1L58.52 186.94L57.87 186.67L57.32 186.31L56.88 185.88L56.58 185.39L56.42 184.87L56.42 184.33L56.58 183.81L56.88 183.32L57.32 182.89L57.87 182.53L58.52 182.26L59.23 182.1L59.98 182.04M67.13 181.51L67.94 181.57L68.7 181.77L69.41 182.1L70.01 182.53L70.48 183.05L70.81 183.64L70.98 184.28L70.98 184.92L70.81 185.56L70.48 186.15L70.01 186.67L69.41 187.1L68.7 187.43L67.94 187.63L67.13 187.69L66.33 187.63L65.56 187.43L64.86 187.1L64.26 186.67L63.78 186.15L63.45 185.56L63.28 184.92L63.28 184.28L63.45 183.64L63.78 183.05L64.26 182.53L64.86 182.1L65.56 181.77L66.33 181.57L67.13 181.51M72.58 450.84L73.32 450.9L74.03 451.06L74.68 451.33L75.24 451.69L75.67 452.12L75.98 452.61L76.13 453.13L76.13 453.67L75.98 454.19L75.67 454.68L75.24 455.11L74.68 455.47L74.03 455.74L73.32 455.9L72.58 455.96L71.83 455.9L71.12 455.74L70.47 455.47L69.92 455.11L69.48 454.68L69.18 454.19L69.02 453.67L69.02 453.13L69.18 452.61L69.48 452.12L69.92 451.69L70.47 451.33L71.12 451.06L71.83 450.9L72.58 450.84M79.73 450.31L80.54 450.37L81.3 450.57L82.01 450.9L82.61 451.33L83.08 451.85L83.41 452.44L83.58 453.08L83.58 453.72L83.41 454.36L83.08 454.95L82.61 455.47L82.01 455.9L81.3 456.23L80.54 456.43L79.73 456.49L78.93 456.43L78.16 456.23L77.46 455.9L76.86 455.47L76.38 454.95L76.05 454.36L75.88 453.72L75.88 453.08L76.05 452.44L76.38 451.85L76.86 451.33L77.46 450.9L78.16 450.57L78.93 450.37L79.73 450.31M79.07 463.41L79.93 463.47L80.75 463.64L81.51 463.92L82.17 464.29L82.72 464.74L83.12 465.26L83.37 465.82L83.45 466.4L83.37 466.98L83.12 467.54L82.72 468.06L82.17 468.51L81.51 468.88L80.75 469.16L79.93 469.33L79.07 469.39L78.22 469.33L77.4 469.16L76.64 468.88L75.98 468.51L75.43 468.06L75.03 467.54L74.78 466.98L74.69 466.4L74.78 465.82L75.03 465.26L75.43 464.74L75.98 464.29L76.64 463.92L77.4 463.64L78.22 463.47L79.07 463.41M69 464.59L77.76 469.07M69.73 478.49L69 476.36L83.6 476.36M195.42 268.36L199.26 267.6L199.26 278.4M217 267.6L209.8 267.6L209 272.46L209.45 272.72L210.09 272.25L210.84 271.88L211.68 271.63L212.56 271.5L213.47 271.51L214.35 271.64L215.18 271.89L215.93 272.27L216.57 272.74L217.08 273.3L217.43 273.92L217.61 274.57L217.62 275.25L217.46 275.91L217.12 276.53L216.63 277.09L216.01 277.58L215.27 277.96L214.44 278.23L213.56 278.37L212.66 278.39L211.77 278.28L210.93 278.04L210.16 277.68L209.51 277.22L208.98 276.67M226.32 268.36L230.16 267.6L230.16 278.4M306.45 295.61L306.66 295.09L307.01 294.6L307.48 294.17L308.07 293.8L308.75 293.51L309.49 293.32L310.28 293.21L311.08 293.21L311.86 293.31L312.61 293.5L313.29 293.78L313.89 294.15L314.37 294.58L314.73 295.06L314.95 295.58L315.02 296.12L314.95 296.62L314.76 297.11L314.44 297.57L314.01 297.99L306.22 304L315.5 304M320.8 293.2L330.4 293.2L323.68 304M339.42 294.98L339.76 294.49L340.24 294.07L340.83 293.71L341.52 293.44L342.27 293.27L343.05 293.2L343.84 293.24L344.61 293.38L345.32 293.62L345.94 293.95L346.46 294.35L346.84 294.82L347.09 295.33L347.18 295.86L347.11 296.39L346.89 296.9L346.53 297.38L346.03 297.79L345.42 298.14L344.73 298.39L343.97 298.55L343.18 298.6L344.38 298.33L345.22 298.48L346.01 298.73L346.7 299.07L347.28 299.48L347.72 299.95L348.01 300.46L348.13 301L348.09 301.55L347.88 302.07L347.52 302.57L347.01 303.01L346.37 303.39L345.63 303.68L344.81 303.88L343.94 303.99L343.06 303.99L342.19 303.88L341.37 303.68L340.63 303.39L339.99 303.01L339.48 302.57M305.62 337.86L309.46 337.1L309.46 347.9M327.5 337.1L320.3 337.1L319.5 341.96L319.95 342.22L320.59 341.75L321.34 341.38L322.18 341.13L323.06 341L323.97 341.01L324.85 341.14L325.68 341.39L326.43 341.77L327.07 342.24L327.58 342.8L327.93 343.42L328.11 344.07L328.12 344.75L327.96 345.41L327.62 346.03L327.13 346.59L326.51 347.08L325.77 347.46L324.94 347.73L324.06 347.87L323.16 347.89L322.27 347.78L321.43 347.54L320.66 347.18L320.01 346.72L319.48 346.17M344.54 339.75L344.46 340.3L344.21 340.82L343.81 341.3L343.27 341.71L342.62 342.04L341.89 342.26L341.1 342.38L340.3 342.38L339.51 342.26L338.78 342.04L338.13 341.71L337.59 341.3L337.19 340.82L336.94 340.3L336.86 339.75L336.94 339.2L337.19 338.67L337.59 338.19L338.13 337.78L338.78 337.45L339.51 337.23L340.3 337.11L341.1 337.11L341.89 337.23L342.62 337.45L343.27 337.78L343.81 338.19L344.21 338.67L344.46 339.2L344.54 339.75M345.34 345.04L345.24 345.63L344.94 346.2L344.45 346.72L343.8 347.16L343.02 347.52L342.13 347.76L341.19 347.88L340.21 347.88L339.27 347.76L338.38 347.52L337.6 347.16L336.95 346.72L336.46 346.2L336.16 345.63L336.06 345.04L336.16 344.44L336.46 343.87L336.95 343.36L337.6 342.91L338.38 342.56L339.27 342.32L340.21 342.19L341.19 342.19L342.13 342.32L343.02 342.56L343.8 342.91L344.45 343.36L344.94 343.87L345.24 344.44L345.34 345.04M333.59 586.07L333.82 585.55L334.2 585.08L334.72 584.65L335.35 584.29L336.08 584.01L336.89 583.81L337.74 583.71L338.61 583.71L339.46 583.81L340.27 584L341.01 584.27L341.65 584.63L342.17 585.05L342.56 585.52L342.8 586.03L342.88 586.56L342.81 587.06L342.6 587.54L342.25 587.99L341.79 588.4L333.35 594.3L343.4 594.3M359.33 583.7L351.53 583.7L350.67 588.47L351.15 588.73L351.85 588.27L352.66 587.9L353.57 587.66L354.53 587.53L355.51 587.53L356.46 587.66L357.37 587.92L358.18 588.28L358.87 588.75L359.42 589.29L359.8 589.9L360 590.54L360.01 591.2L359.83 591.85L359.47 592.46L358.94 593.02L358.26 593.49L357.45 593.87L356.56 594.13L355.61 594.28L354.63 594.29L353.67 594.18L352.75 593.94L351.93 593.59L351.22 593.14L350.65 592.6M376.03 589L375.95 589.92L375.72 590.81L375.35 591.65L374.85 592.41L374.23 593.06L373.51 593.59L372.72 593.98L371.87 594.22L371 594.3L370.13 594.22L369.28 593.98L368.49 593.59L367.77 593.06L367.15 592.41L366.65 591.65L366.28 590.81L366.05 589.92L365.97 589L366.05 588.08L366.28 587.19L366.65 586.35L367.15 585.59L367.77 584.94L368.49 584.41L369.28 584.02L370.13 583.78L371 583.7L371.87 583.78L372.72 584.02L373.51 584.41L374.23 584.94L374.85 585.59L375.35 586.35L375.72 587.19L375.95 588.08L376.03 589M549.47 107.94L550.22 107.9L550.95 107.98L551.65 108.16L552.28 108.44L552.8 108.82L553.21 109.26L553.48 109.76L553.59 110.28L553.56 110.82L553.36 111.34L553.02 111.82L552.55 112.25L551.97 112.59L551.31 112.84L550.59 112.99L549.84 113.03L549.1 112.95L548.41 112.77L547.78 112.49L547.25 112.12L546.85 111.67L546.58 111.17L546.46 110.65L546.5 110.11L546.69 109.59L547.03 109.11L547.5 108.69L548.08 108.34L548.75 108.09L549.47 107.94M556.41 106.52L557.22 106.49L558.02 106.59L558.78 106.82L559.47 107.17L560.05 107.63L560.5 108.17L560.81 108.77L560.95 109.41L560.92 110.05L560.73 110.68L560.37 111.25L559.87 111.75L559.25 112.16L558.54 112.45L557.76 112.62L556.95 112.66L556.15 112.55L555.39 112.32L554.7 111.97L554.12 111.52L553.66 110.97L553.36 110.37L553.22 109.73L553.25 109.09L553.44 108.46L553.8 107.89L554.3 107.39L554.92 106.98L555.63 106.69L556.41 106.52M552.26 125.79L551.57 125.65L550.93 125.41L550.37 125.08L549.91 124.67L549.57 124.21L549.37 123.71L549.3 123.18L549.38 122.65L549.59 122.15L549.94 121.68L550.41 121.27L550.97 120.94L551.61 120.69L552.31 120.54L553.03 120.5L553.75 120.56L554.43 120.72L555.06 120.97L555.6 121.31L556.04 121.73L556.36 122.2L556.55 122.71L556.01 121.97L556.09 121.39L556.31 120.83L556.66 120.32L557.12 119.87L557.69 119.5L558.33 119.22L559.03 119.05L559.76 118.98L560.5 119.03L561.21 119.19L561.87 119.45L562.47 119.8L562.97 120.24L563.36 120.75L563.62 121.3L563.75 121.88L563.74 122.47L563.58 123.04L563.3 123.58L562.89 124.06L562.38 124.47M585.82 91.22L571.46 93.24L582.35 96.48L580.81 90.19M584.31 102.98L585.16 102.92L586.01 102.97L586.82 103.14L587.56 103.41L588.21 103.78L588.73 104.23L589.11 104.75L589.33 105.31L589.39 105.9L589.28 106.48L589.01 107.05L588.58 107.57L588.02 108.02L587.34 108.4L586.57 108.68L585.75 108.85L584.89 108.92L584.04 108.86L583.23 108.69L582.49 108.42L581.85 108.05L581.32 107.6L580.94 107.08L580.72 106.52L580.66 105.94L580.77 105.35L581.05 104.79L581.47 104.27L582.04 103.81L582.72 103.44L583.48 103.15L584.31 102.98M574.69 105.52L584.38 108.72M177.57 228.19L179.73 226.42L188.25 236.24M199.53 225.5L200.22 226.37L200.79 227.26L201.22 228.13L201.49 228.96L201.6 229.72L201.55 230.4L201.34 230.97L200.97 231.41L200.46 231.71L199.81 231.86L199.06 231.86L198.22 231.7L197.32 231.39L196.38 230.95L195.44 230.38L194.52 229.7L193.66 228.93L192.87 228.1L192.18 227.23L191.61 226.34L191.18 225.47L190.91 224.64L190.8 223.88L190.85 223.2L191.06 222.63L191.43 222.19L191.94 221.89L192.59 221.74L193.34 221.74L194.18 221.9L195.08 222.21L196.02 222.65L196.96 223.22L197.88 223.9L198.74 224.67L199.53 225.5M210.04 216.18L210.34 216.7L210.38 217.23L210.15 217.73L209.69 218.13L209.05 218.38L208.31 218.45L207.56 218.33L206.88 218.04L206.36 217.62L206.06 217.1L206.02 216.57L206.25 216.07L206.71 215.67L207.35 215.42L208.09 215.35L208.84 215.47L209.52 215.76L210.04 216.18M229.45 215.58L233.25 214.11M242.81 202.45L242.68 201.91L242.69 201.39L242.83 200.9L243.11 200.47L243.51 200.1L244.02 199.82L244.62 199.63L245.28 199.54L245.98 199.56L246.68 199.69L247.37 199.91L248.02 200.23L248.6 200.62L249.08 201.08L249.45 201.58L249.7 202.11L249.81 202.64L249.78 203.16L249.61 203.64L249.32 204.07L248.89 204.42L248.37 204.69L249.02 204.11L249.75 204.01L250.5 204.02L251.27 204.13L252.01 204.34L252.7 204.65L253.31 205.03L253.82 205.49L254.22 205.99L254.49 206.53L254.62 207.08L254.6 207.63L254.44 208.15L254.13 208.62L253.71 209.04L253.16 209.37L252.53 209.62L251.83 209.77L251.08 209.81L250.31 209.75L249.56 209.59L248.84 209.33M266.83 197.5L267.52 198.37L268.09 199.26L268.52 200.13L268.79 200.96L268.9 201.72L268.85 202.4L268.64 202.97L268.27 203.41L267.76 203.71L267.11 203.86L266.36 203.86L265.52 203.7L264.62 203.39L263.68 202.95L262.74 202.38L261.82 201.7L260.96 200.93L260.17 200.1L259.48 199.23L258.91 198.34L258.48 197.47L258.21 196.64L258.1 195.88L258.15 195.2L258.36 194.63L258.73 194.19L259.24 193.89L259.89 193.74L260.64 193.74L261.48 193.9L262.38 194.21L263.32 194.65L264.26 195.22L265.18 195.9L266.04 196.67L266.83 197.5M278.34 188.48L278.64 189L278.68 189.53L278.45 190.03L277.99 190.43L277.35 190.68L276.61 190.75L275.86 190.63L275.18 190.34L274.66 189.92L274.36 189.4L274.32 188.87L274.55 188.37L275.01 187.97L275.65 187.72L276.39 187.65L277.14 187.77L277.82 188.06L278.34 188.48" fill="none" stroke="#1f1f1f" stroke-width="1.4" stroke-linecap="round" stroke-linejoin="round"/>
<ellipse cx="308.5" cy="588.8" rx="7.4" ry="5.2" fill="none" stroke="#1f1f1f" stroke-width="1.4"/>
<path d="M300.8 594.6L316.3 583" fill="none" stroke="#1f1f1f" stroke-width="1.4" stroke-linecap="round"/>
<g fill="#1f1f1f" stroke="none"><polygon points="13.5,0 4.75,11 22.25,11"/><polygon points="38,33.6 29.25,44.6 46.75,44.6"/><polygon points="62,33.6 53.25,44.6 70.75,44.6"/><polygon points="62,127 53.25,138 70.75,138"/><polygon points="76,370 67.25,381 84.75,381"/><polygon points="13.5,134 4.75,123 22.25,123"/><polygon points="62,127 53.25,116 70.75,116"/><polygon points="38,233.6 29.25,222.6 46.75,222.6"/><polygon points="62,233.6 53.25,222.6 70.75,222.6"/><polygon points="76,569 67.25,558 84.75,558"/><polygon points="86.7,21.7 72.2,15.5 72.2,27.9"/><polygon points="113,245 98.5,238.8 98.5,251.2"/><polygon points="335.5,273 320.5,266.8 320.5,279.2"/><polygon points="536.7,299 521.7,292.8 521.7,305.2"/><polygon points="455.3,342.5 440.5,336.3 440.5,348.7"/><polygon points="532.5,589 517.5,582.8 517.5,595.2"/><polygon points="113,21.7 127.5,15.5 127.5,27.9"/><polygon points="88,273 103,266.8 103,279.2"/><polygon points="88,299 103,292.8 103,305.2"/><polygon points="195.7,342.5 211.5,336.3 211.5,348.7"/><polygon points="120,589 136.5,582.8 136.5,595.2"/><polygon points="144.6,243.9 156.6,236.4 160.1,248.4"/><polygon points="551,94.6 543.4,105 561,103.3"/><polygon points="560.3,138.3 549.8,129 566,127.8"/><polygon points="570,59 563,70.5 580,69"/><polygon points="588.3,134.8 578,125.2 594.8,124.3"/><path d="M409 107.8L418.5 108.6L410.3 111Z"/></g>
</svg>
</body></html>
